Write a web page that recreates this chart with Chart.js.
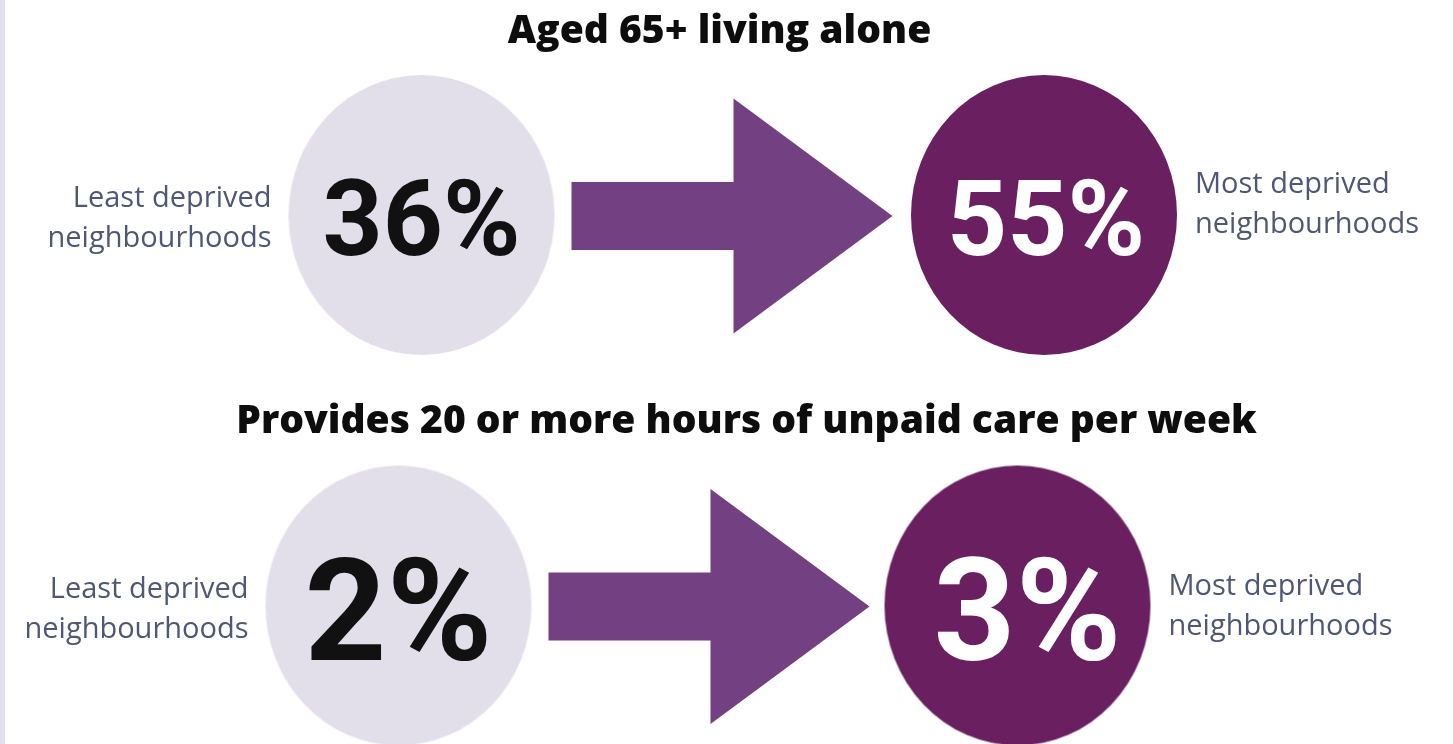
<!DOCTYPE html>
<html>
<head>
<meta charset="utf-8">
<script src="https://cdn.jsdelivr.net/npm/chart.js@4.4.1/dist/chart.umd.min.js"></script>
<style>
html, body { margin: 0; padding: 0; background: #fff; overflow: hidden; }
</style>
</head>
<body>
<canvas id="InfoChart" width="1453" height="744"></canvas>
<script>
// data
var titles = ['Aged 65+ living alone', 'Provides 20 or more hours of unpaid care per week'];
var leastValues = [36, 2];
var mostValues = [55, 3];
var leastLabel = ['Least deprived', 'neighbourhoods'];
var mostLabel = ['Most deprived', 'neighbourhoods'];

// layout (px, same units as the hidden scales)
var rowY = [215, 605.5];
var leastX = [421.5, 398.5];
var mostX = [1044, 1017.5];
var mostNumberDx = [2, 10];
var titleX = [719.5, 746.5];
var titleY = [43, 433];
var numberSize = [105, 143];
var leastLabelDy = [-8, -7.5];
var mostLabelDy = [-22, -10.5];

var LIGHT = '#e2dfeb', DARK = '#6a1f60', ARROW = '#734082', SLATE = '#4f5775';

function ellipseImage(color) {
	var rx = 133, ry = 140;
	var c = document.createElement('canvas');
	c.width = rx * 2 + 2;
	c.height = ry * 2 + 2;
	var g = c.getContext('2d');
	g.fillStyle = color;
	g.beginPath();
	g.ellipse(c.width / 2, c.height / 2, rx, ry, 0, 0, Math.PI * 2);
	g.fill();
	return c;
}

function circlePoints(xs) {
	return xs.map(function (x, i) { return { x: x, y: rowY[i] }; });
}

function arrowPoints(i) {
	var x0 = leastX[i] + 150, cy = rowY[i] + 1;
	return [
		{ x: x0, y: cy - 34 },
		{ x: x0 + 162, y: cy - 34 },
		{ x: x0 + 162, y: cy - 117.5 },
		{ x: x0 + 321, y: cy },
		{ x: x0 + 162, y: cy + 117.5 },
		{ x: x0 + 162, y: cy + 34 },
		{ x: x0, y: cy + 34 }
	];
}

var textPlugin = {
	id: 'infoText',
	beforeDraw: function (chart) {
		var ctx = chart.ctx;
		ctx.save();
		ctx.fillStyle = '#ffffff';
		ctx.fillRect(0, 0, chart.width, chart.height);
		ctx.fillStyle = '#e4e0ee';
		ctx.fillRect(0, 0, 5, chart.height);
		ctx.restore();
	},
	afterDatasetsDraw: function (chart) {
		var ctx = chart.ctx, sx = chart.scales.x, sy = chart.scales.y;
		var least = chart.getDatasetMeta(0).data, most = chart.getDatasetMeta(1).data;
		ctx.save();
		ctx.textBaseline = 'alphabetic';

		// titles
		ctx.fillStyle = '#0d0d0d';
		ctx.textAlign = 'center';
		ctx.font = '800 39px "Open Sans"';
		titles.forEach(function (t, i) {
			ctx.fillText(t, sx.getPixelForValue(titleX[i]), sy.getPixelForValue(titleY[i]));
		});

		for (var i = 0; i < rowY.length; i++) {
			var size = numberSize[i];
			ctx.textAlign = 'center';
			ctx.font = 'bold ' + size + 'px Roboto';
			ctx.fillStyle = '#111111';
			ctx.fillText(leastValues[i] + '%', least[i].x, least[i].y + size * 0.38);
			ctx.fillStyle = '#ffffff';
			ctx.fillText(mostValues[i] + '%', most[i].x + mostNumberDx[i], most[i].y + size * 0.38);

			ctx.font = '400 29px "Open Sans"';
			ctx.fillStyle = SLATE;
			ctx.textAlign = 'right';
			leastLabel.forEach(function (l, k) {
				ctx.fillText(l, least[i].x - 150, least[i].y + leastLabelDy[i] + k * 40);
			});
			ctx.textAlign = 'left';
			mostLabel.forEach(function (l, k) {
				ctx.fillText(l, most[i].x + 151, most[i].y + mostLabelDy[i] + k * 40);
			});
		}
		ctx.restore();
	}
};

new Chart(document.getElementById('InfoChart'), {
	type: 'scatter',
	data: {
		datasets: [{
			label: 'Least deprived',
			data: circlePoints(leastX),
			pointStyle: ellipseImage(LIGHT),
			pointRadius: 140,
			clip: false
		}, {
			label: 'Most deprived',
			data: circlePoints(mostX),
			pointStyle: ellipseImage(DARK),
			pointRadius: 140,
			clip: false
		}, {
			type: 'line',
			label: 'arrow 1',
			data: arrowPoints(0),
			fill: 'shape',
			backgroundColor: ARROW,
			borderWidth: 0,
			pointRadius: 0,
			clip: false
		}, {
			type: 'line',
			label: 'arrow 2',
			data: arrowPoints(1),
			fill: 'shape',
			backgroundColor: ARROW,
			borderWidth: 0,
			pointRadius: 0,
			clip: false
		}]
	},
	options: {
		responsive: false,
		animation: false,
		layout: { padding: 0, autoPadding: false },
		plugins: { legend: { display: false }, tooltip: { enabled: false }, title: { display: false } },
		scales: {
			x: { type: 'linear', min: 0, max: 1453, display: false },
			y: { type: 'linear', min: 0, max: 744, reverse: true, display: false }
		}
	},
	plugins: [textPlugin]
});
</script>
</body>
</html>
